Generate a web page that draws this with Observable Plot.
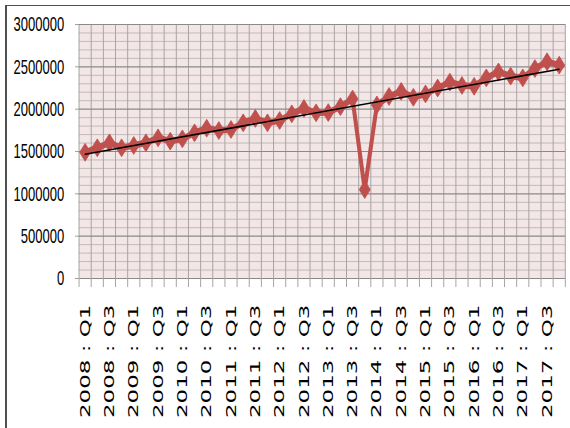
<!DOCTYPE html>
<html><head><meta charset="utf-8">
<script src="https://cdn.jsdelivr.net/npm/d3@7"></script>
<script src="https://cdn.jsdelivr.net/npm/@observablehq/plot@0.6"></script>
<style>
html,body{margin:0;padding:0;background:#fff;overflow:hidden;width:570px;height:428px}
#frame{position:absolute;left:5px;top:5px;width:700px;height:600px;border-left:2px solid #505050;border-top:1.5px solid #505050;box-sizing:border-box}
#chart{position:absolute;left:0;top:0;width:920px;height:428px;transform:scaleX(0.62);transform-origin:0 0}
#chart svg{max-width:none !important;display:block}
</style></head><body><div id="frame"></div><div id="chart"></div>
<script>
const years = [2008, 2009, 2010, 2011, 2012, 2013, 2014, 2015, 2016, 2017];
const quarters = ["Q1", "Q2", "Q3", "Q4"];
const labels = years.flatMap(y => quarters.map(q => `${y} : ${q}`));
const values = [
  1490000, 1544000, 1603000, 1544000, 1571000, 1603000, 1662000, 1622000, 1650000, 1721000,
  1775000, 1748000, 1760000, 1839000, 1890000, 1839000, 1866000, 1945000, 2008000, 1957000,
  1960000, 2030000, 2120000, 1050000, 2050000, 2150000, 2210000, 2140000, 2180000, 2250000,
  2320000, 2280000, 2270000, 2370000, 2440000, 2390000, 2370000, 2480000, 2560000, 2520000
];
const yTicks = [0, 500000, 1000000, 1500000, 2000000, 2500000, 3000000];
const minorY = d3.range(0, 3000001, 100000).filter(v => v % 500000 !== 0);

const data = values.map((v, i) => ({i, label: labels[i], v}));
const edges = d3.range(labels.length + 1).map(k => k - 0.5);
const labelTicks = d3.range(0, labels.length, 2);

const red = "#c0504d";
const sx = 0.62;
const W = Math.round(570 / sx);

const chart = Plot.plot({
  width: W,
  height: 428,
  marginLeft: 127,
  marginRight: W - 565 / sx,
  marginTop: 24,
  marginBottom: 150,
  style: {background: "transparent", overflow: "visible"},
  x: {type: "linear", domain: [-0.5, labels.length - 0.5], label: null},
  y: {domain: [0, 3000000], label: null},
  marks: [
    Plot.frame({fill: "#f3e6e6", stroke: null}),
    Plot.ruleY(minorY, {stroke: "#b8b0b0", strokeWidth: 1}),
    Plot.ruleX(edges, {y1: 0, y2: 3000000, stroke: "#a9a3a3", strokeWidth: 1 / sx}),
    Plot.ruleY(yTicks, {stroke: "#8a8a8a", strokeWidth: 1.2}),
    Plot.axisY({ticks: yTicks, tickSize: 6, tickPadding: 18, tickFormat: d => String(d), label: null,
      stroke: "#8a8a8a", fontSize: 21, fontFamily: "Liberation Sans, Arial, sans-serif", fill: "#000"}),
    Plot.axisX({ticks: edges, tickSize: 9, tickFormat: () => "", label: null, stroke: "#a9a3a3", strokeWidth: 1 / sx}),
    Plot.axisX({ticks: labelTicks, tickSize: 0, tickPadding: 26, tickRotate: -90, label: null,
      tickFormat: i => labels[i], fontSize: 23, fontFamily: "DejaVu Sans, Verdana, sans-serif", fill: "#000"}),
    Plot.line(data, {x: "i", y: "v", stroke: red, strokeWidth: 6.5, strokeLinejoin: "miter"}),
    Plot.dot(data, {x: "i", y: "v", symbol: "diamond2", r: 8, fill: red, stroke: red, strokeWidth: 1}),
    Plot.linearRegressionY(data, {x: "i", y: "v", ci: 0, stroke: "#000", strokeWidth: 1.6})
  ]
});
document.getElementById("chart").appendChild(chart);
</script>
</body></html>
